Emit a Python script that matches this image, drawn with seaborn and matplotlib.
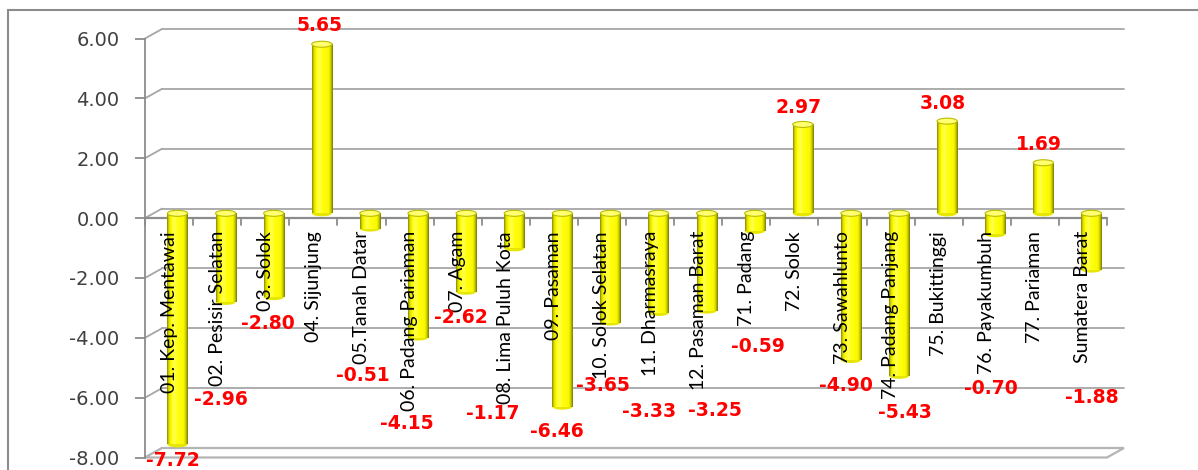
import numpy as np
import matplotlib
matplotlib.use("Agg")
import matplotlib.pyplot as plt
import seaborn as sns
import pandas as pd
from matplotlib.transforms import ScaledTranslation
from matplotlib.patches import Ellipse, Polygon, Rectangle
from matplotlib.colors import LinearSegmentedColormap

# ---------------- data ----------------
categories = ["01. Kep. Mentawai", "02. Pesisir Selatan", "03. Solok", "04. Sijunjung",
              "05.Tanah Datar", "06. Padang Pariaman", "07. Agam", "08. Lima Puluh Kota",
              "09. Pasaman", "10. Solok Selatan", "11. Dharmasraya", "12. Pasaman Barat",
              "71. Padang", "72. Solok", "73. Sawahlunto", "74. Padang Panjang",
              "75. Bukittinggi", "76. Payakumbuh", "77. Pariaman", "Sumatera Barat"]
values = [-7.72, -2.96, -2.80, 5.65, -0.51, -4.15, -2.62, -1.17, -6.46, -3.65,
          -3.33, -3.25, -0.59, 2.97, -4.90, -5.43, 3.08, -0.70, 1.69, -1.88]
yticks = [-8, -6, -4, -2, 0, 2, 4, 6]

# label placement (layout, not data): y in value units, x shift in category units
label_y = [-8.09, -6.05, -3.51, 6.45, -5.25, -6.85, -3.31, -6.52, -7.12, -5.58,
           -6.45, -6.42, -4.28, 3.71, -5.58, -6.48, 3.84, -5.71, 2.47, -5.98]
label_dx = [0.08, 0.08, 0.06, 0.12, 0.03, -0.05, 0.07, -0.27, 0.07, 0.03,
            -0.02, 0.35, 0.24, 0.08, 0.07, 0.30, 0.08, 0.08, 0.09, 0.18]

df = pd.DataFrame({"cat": categories, "val": values})

# ---------------- layout ----------------
W, H, DPI = 1198, 470, 100
x_left, x_right = 145, 1107      # front plane x pixels
y_top, y_bot = 38.5, 457.5       # pixel rows of 6 and -8 (front plane)
depth_dx, depth_dy = 17, 9.5     # pixel offset of the back wall

sns.set_theme(style="white")
plt.rcParams['font.family'] = ['DejaVu Sans']

fig = plt.figure(figsize=(W / DPI, H / DPI), dpi=DPI)
ax = fig.add_axes([x_left / W, (H - y_bot) / H, (x_right - x_left) / W, (y_bot - y_top) / H])
ax.set_facecolor("none")
n = len(categories)
ax.set_xlim(-0.5, n - 0.5)
ax.set_ylim(-8, 6)

px_x = n / (x_right - x_left)      # data units per pixel (x)
px_y = 14 / (y_bot - y_top)        # data units per pixel (y)

back = ax.transData + ScaledTranslation(depth_dx / DPI, depth_dy / DPI, fig.dpi_scale_trans)
mid = ax.transData + ScaledTranslation(depth_dx / 2 / DPI, depth_dy / 2 / DPI, fig.dpi_scale_trans)

grid_c = "#a6a6a6"
for yt in yticks[1:]:
    ax.plot([-0.5, n - 0.5], [yt, yt], color=grid_c, lw=1.3,
            transform=back, clip_on=False, zorder=0.5)
for yt in yticks:
    ax.plot([-0.5, -0.5 + depth_dx * px_x], [yt, yt + depth_dy * px_y], color=grid_c,
            lw=1.3, clip_on=False, zorder=0.5)
floor = Polygon([[-0.5, -8], [n - 0.5, -8], [n - 0.5 + depth_dx * px_x, -8 + depth_dy * px_y],
                 [-0.5 + depth_dx * px_x, -8 + depth_dy * px_y]], closed=True,
                facecolor="white", edgecolor="#b4b4b4", lw=1.6, clip_on=False, zorder=0.6)
ax.add_patch(floor)

# ---------------- bars ----------------
sns.barplot(data=df, x="cat", y="val", color="#FFFF00", width=0.42, ax=ax,
            saturation=1, zorder=2, edgecolor="none")

cmap = LinearSegmentedColormap.from_list(
    "cyl", [(0.0, "#8a8a00"), (0.09, "#dede00"), (0.2, "#ffff00"), (0.35, "#ffff55"),
            (0.5, "#ffff10"), (0.8, "#fafa00"), (0.9, "#cfcf00"), (1.0, "#7c7c00")])
grad = np.linspace(0, 1, 64).reshape(1, -1)
bars = [p for p in ax.patches if p is not floor]
for p in bars:
    p.set_transform(mid)
    x0, w = p.get_x(), p.get_width()
    y0, h = p.get_y(), p.get_height()
    lo, hi = min(y0, y0 + h), max(y0, y0 + h)
    eh = 6 * px_y
    bot = Ellipse((x0 + w / 2, lo), w, eh, facecolor="#e6e600", edgecolor="none",
                  transform=mid, zorder=1.9, clip_on=False)
    ax.add_patch(bot)
    im = ax.imshow(grad, cmap=cmap, aspect="auto", extent=(x0, x0 + w, lo, hi),
                   transform=mid, zorder=2.1, interpolation="bilinear")
    im.set_clip_path(p)
    cap = Ellipse((x0 + w / 2, hi), w, eh, facecolor="#ffff70", edgecolor="#bcbc00",
                  lw=0.8, transform=mid, zorder=2.3, clip_on=False)
    ax.add_patch(cap)
ax.set_xlim(-0.5, n - 0.5)
ax.set_ylim(-8, 6)

# front axis line at zero and ticks
ax.plot([-0.5, n - 0.5], [0, 0], color="#8c8c8c", lw=1.6, zorder=1.5, clip_on=False)
for k in range(n + 1):
    ax.plot([k - 0.5, k - 0.5], [0, -7 * px_y], color="#8c8c8c", lw=1.3, zorder=1.5, clip_on=False)

# category labels
lab_tr = ax.transData + ScaledTranslation(0, -13 / DPI, fig.dpi_scale_trans)
for i, c in enumerate(categories):
    ax.text(i, 0, c, rotation=90, ha="center", va="top", transform=lab_tr,
            fontsize=14, family=["Lato", "DejaVu Sans"], color="#000000", zorder=5)

# value labels
for i, v in enumerate(values):
    ax.text(i + label_dx[i], label_y[i], f"{v:.2f}", ha="center", va="center",
            fontsize=13.5, fontweight="bold", color="#ff0000", zorder=6, clip_on=False)

# y axis
ax.set_yticks(yticks)
ax.set_yticklabels([f"{t:.2f}" for t in yticks])
ax.tick_params(axis="y", length=7, width=1.3, color="#8c8c8c", labelcolor="#404040",
               labelsize=14, pad=11.5, left=True)
ax.tick_params(axis="x", bottom=False, labelbottom=False)
ax.set_xlabel("")
ax.set_ylabel("")
for s in ["top", "right", "bottom"]:
    ax.spines[s].set_visible(False)
ax.spines["left"].set_color("#8c8c8c")
ax.spines["left"].set_linewidth(1.3)
ax.grid(False)

fig.patches.append(Rectangle((8 / W, -0.1), 1.2, (H - 10) / H + 0.1, transform=fig.transFigure,
                             facecolor="none", edgecolor="#8c8c8c", lw=1.5, zorder=0))

fig.savefig("out.png", dpi=DPI)
